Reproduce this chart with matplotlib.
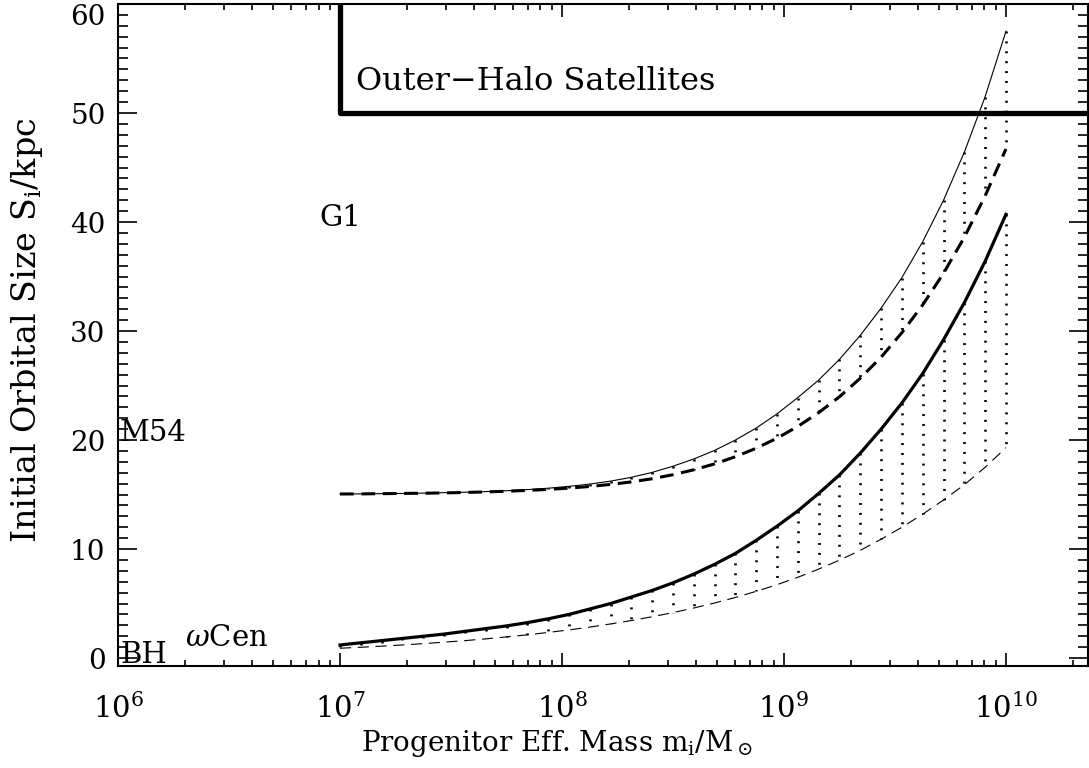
import numpy as np
import matplotlib
matplotlib.use("Agg")
import matplotlib.pyplot as plt
from matplotlib.ticker import LogLocator, MultipleLocator, FixedLocator

plt.rcParams['font.family'] = 'DejaVu Serif'
plt.rcParams['mathtext.fontset'] = 'dejavuserif'

# progenitor mass grid (log10 m / Msun)
log_mass = np.linspace(7.0, 10.0, 33)
mass = 10**log_mass

# upper band: thin solid (top) and thick dashed (bottom)
size_hi_a = [15.05, 15.06, 15.08, 15.1, 15.13, 15.17, 15.21, 15.27, 15.35, 15.45, 15.58,
             15.75, 15.96, 16.23, 16.58, 17.03, 17.6, 18.26, 19.05, 20.0, 21.1, 22.4,
             23.9, 25.5, 27.4, 29.6, 32.1, 34.9, 38.2, 42.0, 46.4, 51.5, 57.5]
size_hi_b = [15.05, 15.06, 15.08, 15.1, 15.12, 15.15, 15.19, 15.24, 15.3, 15.38, 15.47,
             15.59, 15.74, 15.93, 16.16, 16.45, 16.82, 17.27, 17.81, 18.47, 19.25, 20.17,
             21.25, 22.51, 23.97, 25.67, 27.6, 29.85, 32.4, 35.3, 38.6, 42.4, 46.7]
# lower band: thick solid (top) and thin dashed (bottom)
size_lo_a = [1.2, 1.4, 1.6, 1.8, 2.0, 2.2, 2.45, 2.7, 2.95, 3.25, 3.6,
             4.0, 4.5, 5.0, 5.6, 6.2, 6.9, 7.7, 8.6, 9.6, 10.8, 12.1,
             13.5, 15.1, 16.8, 18.8, 21.0, 23.4, 26.1, 29.2, 32.6, 36.4, 40.7]
size_lo_b = [0.9, 0.99, 1.09, 1.2, 1.32, 1.46, 1.6, 1.76, 1.94, 2.13, 2.35,
             2.58, 2.84, 3.13, 3.44, 3.79, 4.17, 4.59, 5.05, 5.56, 6.12, 6.73,
             7.41, 8.16, 8.98, 9.88, 10.9, 12.0, 13.2, 14.5, 15.9, 17.5, 19.3]

# outer-halo satellite region
halo_mass = 1e7
halo_size = 50.0

# labelled objects: (text, mass, size)
obj_names = ['G1', 'M54', 'BH', r'$\omega$Cen']
obj_mass = [8.1e6, 1.02e6, 1.02e6, 2.0e6]
obj_size = [40.4, 20.6, 0.3, 1.8]

fig = plt.figure(figsize=(10.89, 7.68), dpi=100)
ax = fig.add_axes([0.1084, 0.1328, 0.8906, 0.862])

ax.plot(mass, size_hi_a, color='k', lw=0.8)
ax.plot(mass, size_hi_b, color='k', lw=2.2, dashes=(4.5, 2.5))
ax.plot(mass, size_lo_a, color='k', lw=2.3)
ax.plot(mass, size_lo_b, color='k', lw=0.8, dashes=(10, 6))

for m, a, b in zip(mass, size_hi_a, size_hi_b):
    ax.plot([m, m], [a, b], color='k', lw=1.9, dashes=(0.75, 3.0))
for m, a, b in zip(mass, size_lo_a, size_lo_b):
    ax.plot([m, m], [a, b], color='k', lw=1.9, dashes=(0.75, 3.0))

ax.plot([halo_mass, halo_mass, 1e11], [70, halo_size, halo_size], color='k', lw=3.8)
ax.text(1.18e7, 52.9, 'Outer\u2212Halo Satellites', fontsize=23, va='center', ha='left')

for name, m, s in zip(obj_names, obj_mass, obj_size):
    ax.text(m, s, name, fontsize=21, va='center', ha='left')

ax.set_xscale('log')
ax.set_xlim(1e6, 2.34e10)
ax.set_ylim(-0.73, 60.0)

ax.xaxis.set_major_locator(FixedLocator([1e6, 1e7, 1e8, 1e9, 1e10]))
ax.xaxis.set_minor_locator(LogLocator(base=10, subs=np.arange(2, 10)))
ax.set_xticklabels([r'$10^{6}$', r'$10^{7}$', r'$10^{8}$', r'$10^{9}$', r'$10^{10}$'])
ax.xaxis.set_minor_formatter(plt.NullFormatter())
ax.yaxis.set_major_locator(MultipleLocator(10))
ax.yaxis.set_minor_locator(MultipleLocator(1))

ax.tick_params(axis='x', which='major', direction='in', length=9.5, width=1.2,
               top=True, labelsize=21, pad=20)
ax.tick_params(axis='x', which='minor', direction='in', length=4.5, width=1.2, top=True)
ax.tick_params(axis='y', which='major', direction='in', length=14, width=1.2,
               right=True, labelsize=20, pad=9)
ax.tick_params(axis='y', which='minor', direction='in', length=7, width=1.2, right=True)
for sp in ax.spines.values():
    sp.set_linewidth(1.5)

ax.set_xlabel(r'Progenitor Eff. Mass m$_\mathrm{i}$/M$_\odot$', fontsize=20)
ax.set_ylabel(r'Initial Orbital Size S$_\mathrm{i}$/kpc', fontsize=24)
ax.xaxis.set_label_coords(0.4526, -0.0936)
ax.yaxis.set_label_coords(-0.0754, 0.5076)

fig.canvas.draw()
for t in ax.yaxis.get_major_ticks():
    if abs(t.get_loc() - 60) < 1e-6:
        t.label1.set_verticalalignment('top')

plt.savefig('out.png', dpi=100)
